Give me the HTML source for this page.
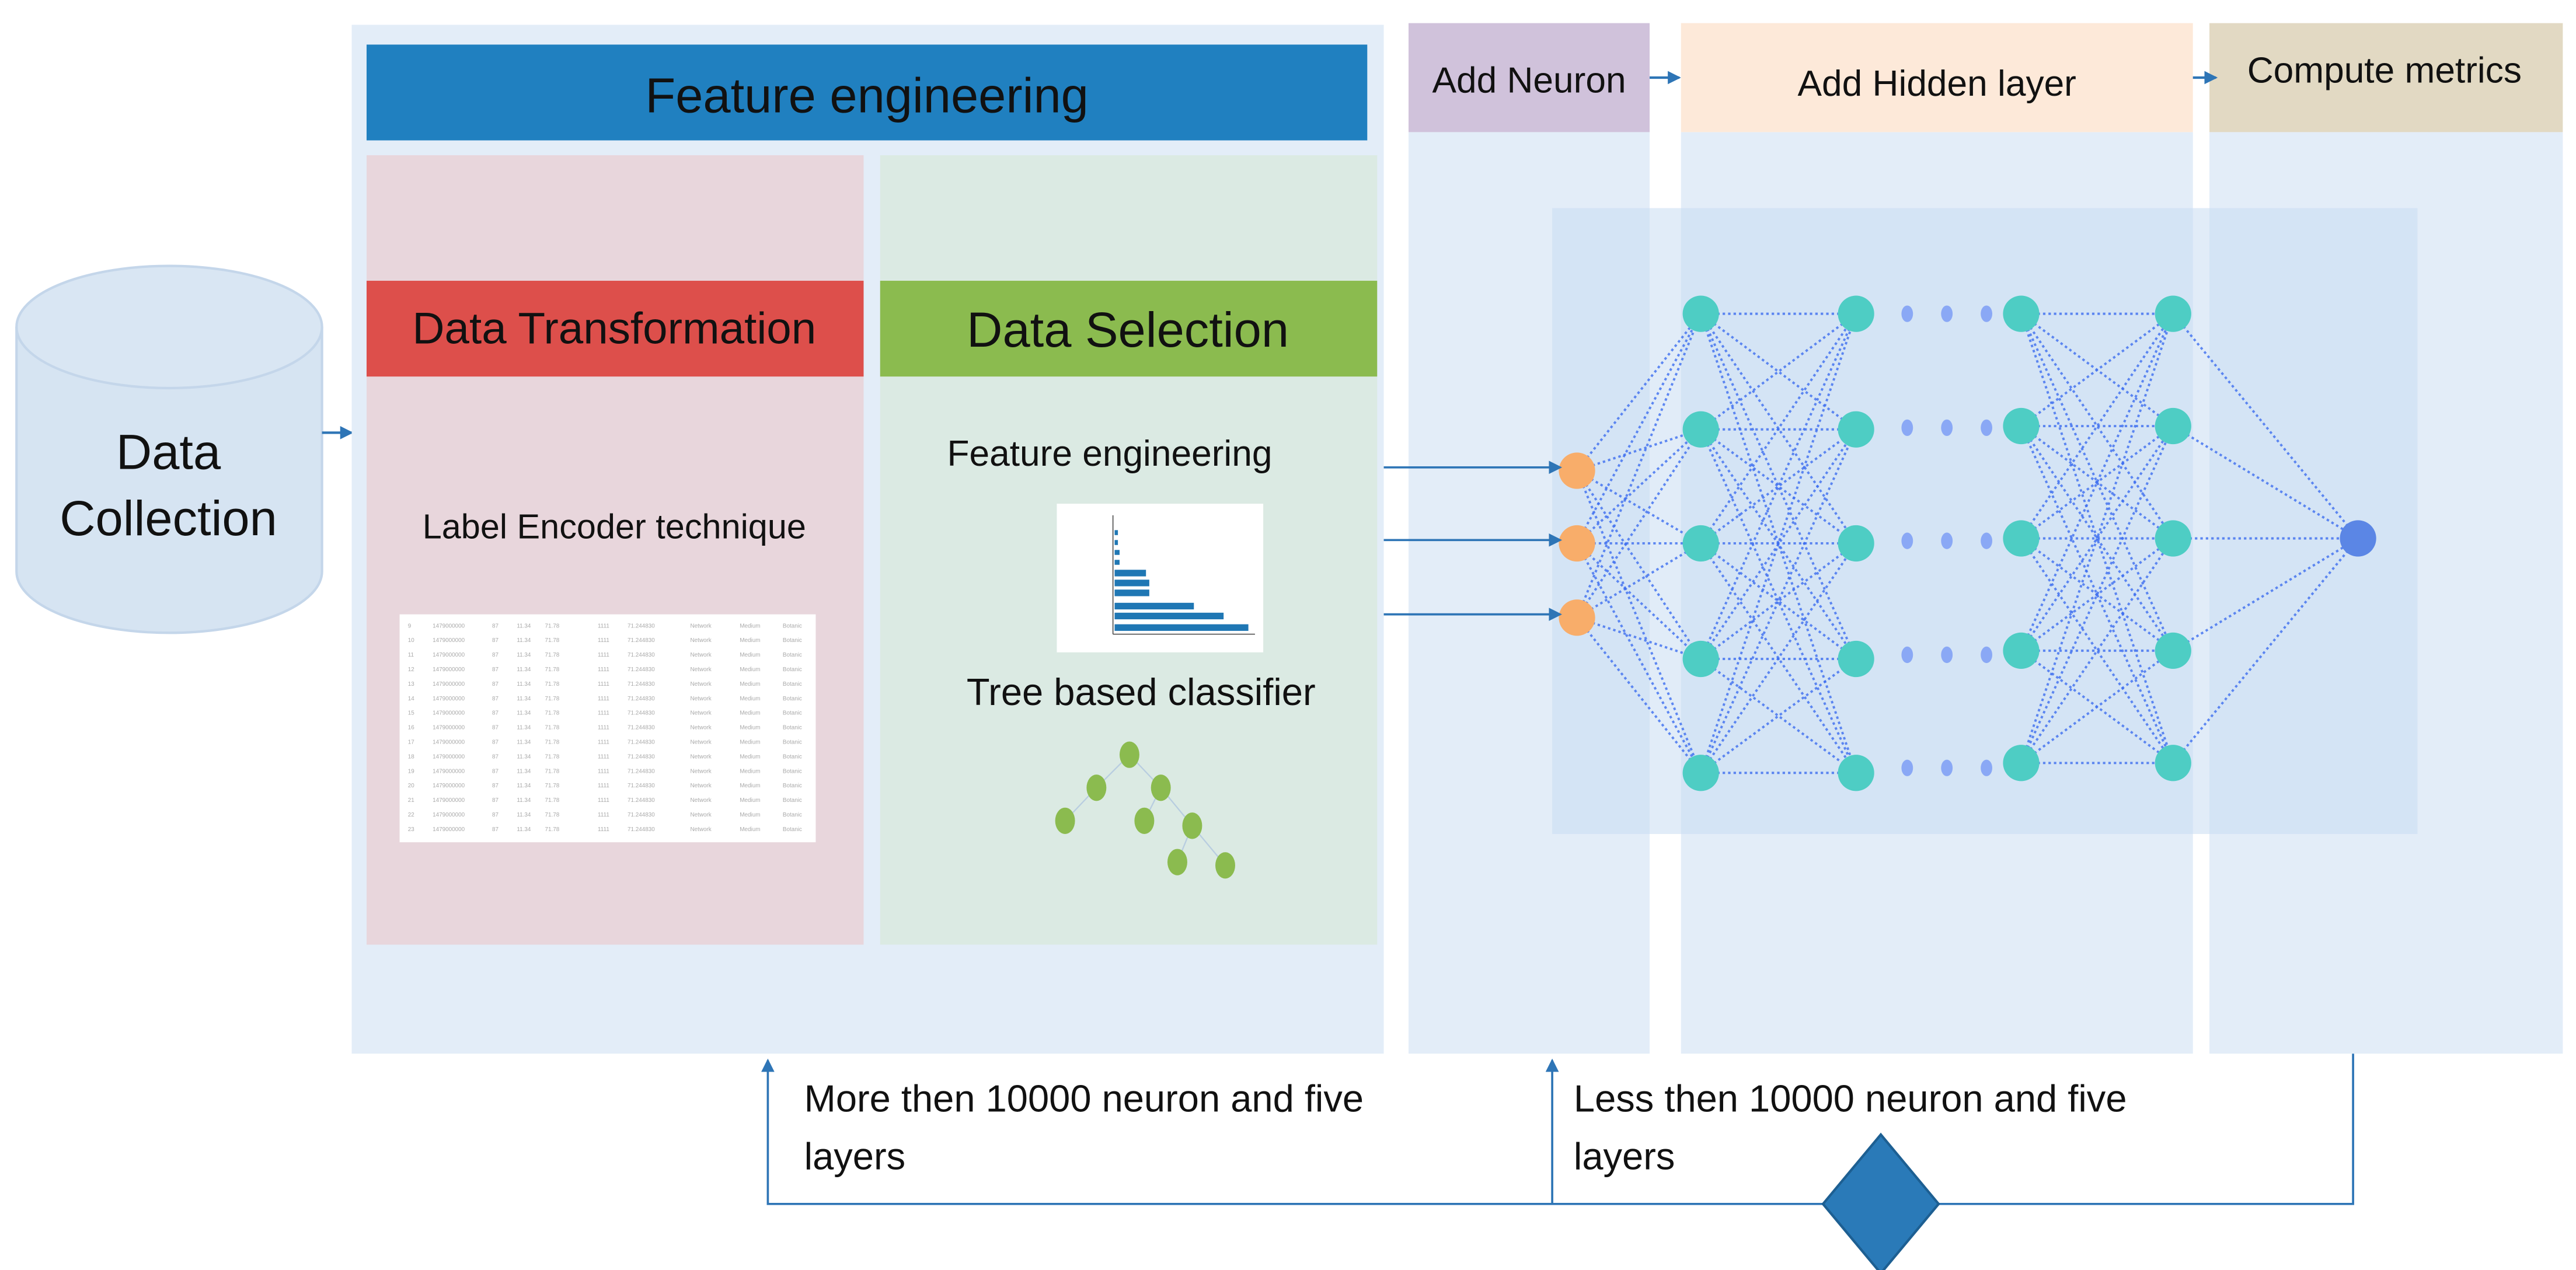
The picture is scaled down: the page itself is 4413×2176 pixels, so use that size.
<!DOCTYPE html>
<html><head><meta charset="utf-8"><style>
html,body{margin:0;padding:0;background:#fff;}
svg{display:block;}
text{font-family:"Liberation Sans",sans-serif;}
</style></head><body>
<svg id="s" width="4413" height="2176" viewBox="0 0 1560 769" preserveAspectRatio="none" xmlns="http://www.w3.org/2000/svg">
<defs>
<marker id="ar" markerWidth="8" markerHeight="8" refX="7" refY="4" orient="auto" markerUnits="userSpaceOnUse"><path d="M0,0 L8,4 L0,8 z" fill="#2e75b6"/></marker>
</defs>
<rect width="1560" height="769" fill="#fff"/>
<!-- cylinder -->
<path d="M10,198 L10,346 A92,37 0 0 0 195,346 L195,198" fill="#d6e4f2" stroke="#c4d6ea" stroke-width="1.5"/>
<ellipse cx="102.5" cy="198" rx="92.5" ry="37" fill="#d9e6f3" stroke="#c4d6ea" stroke-width="1.5"/>
<text x="102" y="284" font-size="30" text-anchor="middle" fill="#111">Data</text>
<text x="102" y="324" font-size="30" text-anchor="middle" fill="#111">Collection</text>
<line x1="195" y1="262" x2="213" y2="262" stroke="#2e75b6" stroke-width="1.5" marker-end="url(#ar)"/>
<!-- outer feature box -->
<rect x="213" y="15" width="625" height="623" fill="#e3edf8"/>
<rect x="222" y="27" width="606" height="58" fill="#2080c0"/>
<text x="525" y="68" font-size="30" text-anchor="middle" fill="#111">Feature engineering</text>
<rect x="222" y="94" width="301" height="478" fill="#e8d6dc"/>
<rect x="533" y="94" width="301" height="478" fill="#dbeae3"/>
<rect x="222" y="170" width="301" height="58" fill="#dd4f4b"/>
<text x="372" y="208" font-size="27" text-anchor="middle" fill="#111">Data Transformation</text>
<rect x="533" y="170" width="301" height="58" fill="#8bbb4f"/>
<text x="683" y="210" font-size="30" text-anchor="middle" fill="#111">Data Selection</text>
<text x="372" y="326" font-size="21" text-anchor="middle" fill="#111">Label Encoder technique</text>
<rect x="242" y="372" width="252" height="138" fill="#fff"/>
<g id="tbl" font-size="3.5" fill="#aaa"></g>
<text x="672" y="282" font-size="22" text-anchor="middle" fill="#111">Feature engineering</text>
<rect x="640" y="305" width="125" height="90" fill="#fff"/>
<g fill="#1f77b4">
<rect x="675" y="321" width="2" height="3"/><rect x="675" y="327" width="2" height="3"/>
<rect x="675" y="333" width="3" height="3"/><rect x="675" y="339" width="3" height="3"/>
<rect x="675" y="345" width="19" height="4"/><rect x="675" y="351" width="21" height="4"/>
<rect x="675" y="357" width="21" height="4"/><rect x="675" y="365" width="48" height="4"/>
<rect x="675" y="371" width="66" height="4"/><rect x="675" y="378" width="81" height="4"/>
</g>
<line x1="674" y1="312" x2="674" y2="384" stroke="#333" stroke-width="0.5"/>
<line x1="674" y1="384" x2="760" y2="384" stroke="#333" stroke-width="0.5"/>
<text x="691" y="427" font-size="23" text-anchor="middle" fill="#111">Tree based classifier</text>
<g stroke="#b8cde0" stroke-width="0.8">
<line x1="684" y1="457" x2="664" y2="477"/><line x1="684" y1="457" x2="703" y2="477"/>
<line x1="664" y1="477" x2="645" y2="497"/><line x1="703" y1="477" x2="693" y2="497"/>
<line x1="703" y1="477" x2="722" y2="500"/><line x1="722" y1="500" x2="713" y2="522"/>
<line x1="722" y1="500" x2="742" y2="524"/>
</g>
<g fill="#8bbb4f">
<ellipse cx="684" cy="457" rx="6" ry="8"/><ellipse cx="664" cy="477" rx="6" ry="8"/>
<ellipse cx="703" cy="477" rx="6" ry="8"/><ellipse cx="645" cy="497" rx="6" ry="8"/>
<ellipse cx="693" cy="497" rx="6" ry="8"/><ellipse cx="722" cy="500" rx="6" ry="8"/>
<ellipse cx="713" cy="522" rx="6" ry="8"/><ellipse cx="742" cy="524" rx="6" ry="8"/>
</g>
<!-- columns -->
<rect x="853" y="80" width="146" height="558" fill="#e3edf8"/>
<rect x="853" y="14" width="146" height="66" fill="#d0c2db"/>
<text x="926" y="56" font-size="22" text-anchor="middle" fill="#111">Add Neuron</text>
<rect x="1018" y="80" width="310" height="558" fill="#e3edf8"/>
<rect x="1018" y="14" width="310" height="66" fill="#fde9d9"/>
<text x="1173" y="58" font-size="22" text-anchor="middle" fill="#111">Add Hidden layer</text>
<rect x="1338" y="80" width="214" height="558" fill="#e3edf8"/>
<rect x="1338" y="14" width="214" height="66" fill="#e2d9c3"/>
<text x="1444" y="50" font-size="22" text-anchor="middle" fill="#111">Compute metrics</text>
<line x1="999" y1="47" x2="1017" y2="47" stroke="#2e75b6" stroke-width="1.5" marker-end="url(#ar)"/>
<line x1="1328" y1="47" x2="1342" y2="47" stroke="#2e75b6" stroke-width="1.5" marker-end="url(#ar)"/>
<!-- NN panel -->
<rect x="940" y="126" width="524" height="379" fill="#c9dcf3" opacity="0.55"/>
<g id="nn"></g>
<line x1="838" y1="283" x2="945" y2="283" stroke="#2e75b6" stroke-width="1.3" marker-end="url(#ar)"/>
<line x1="838" y1="327" x2="945" y2="327" stroke="#2e75b6" stroke-width="1.3" marker-end="url(#ar)"/>
<line x1="838" y1="372" x2="945" y2="372" stroke="#2e75b6" stroke-width="1.3" marker-end="url(#ar)"/>
<!-- bottom loop -->
<g stroke="#2e75b6" stroke-width="1.3" fill="none">
<polyline points="1425,638 1425,729 465,729 465,642" marker-end="url(#ar)"/>
<line x1="940" y1="729" x2="940" y2="642" marker-end="url(#ar)"/>
</g>
<polygon points="1139,687 1174,729 1139,771 1104,729" fill="#2a7ab8" stroke="#1d5f92" stroke-width="1.5"/>
<text x="487" y="673" font-size="23" fill="#111">More then 10000 neuron  and five</text>
<text x="487" y="708" font-size="23" fill="#111">layers</text>
<text x="953" y="673" font-size="23" fill="#111">Less then 10000 neuron  and five</text>
<text x="953" y="708" font-size="23" fill="#111">layers</text>
</svg>
<script>
var NS="http://www.w3.org/2000/svg";
function el(p,t,a){var e=document.createElementNS(NS,t);for(var k in a)e.setAttribute(k,a[k]);p.appendChild(e);return e;}
var nn=document.getElementById("nn");
var inp=[[955,285],[955,329],[955,374]];
var y1=[190,260,329,399,468],y3=[190,258,326,394,462];
var L1=y1.map(function(y){return[1030,y]}),L2=y1.map(function(y){return[1124,y]});
var L3=y3.map(function(y){return[1224,y]}),L4=y3.map(function(y){return[1316,y]});
var out=[[1428,326]];
function conn(A,B){A.forEach(function(a){B.forEach(function(b){el(nn,"line",{x1:a[0],y1:a[1],x2:b[0],y2:b[1],stroke:"#3d6ef0","stroke-width":"1.4","stroke-dasharray":"1.5 1.8",opacity:"0.8"});});});}
conn(inp,L1);conn(L1,L2);conn(L3,L4);conn(L4,out);
y1.forEach(function(y,i){[1155,1179,1203].forEach(function(x){el(nn,"ellipse",{cx:x,cy:(y+y3[i])/2,rx:3.5,ry:5,fill:"#8aa8f5"});});});
function nodes(A,c){A.forEach(function(a){el(nn,"ellipse",{cx:a[0],cy:a[1],rx:11,ry:11,fill:c});});}
nodes(inp,"#f8ad6a");nodes(L1,"#4ecdc4");nodes(L2,"#4ecdc4");nodes(L3,"#4ecdc4");nodes(L4,"#4ecdc4");nodes(out,"#5b86e5");
var t=document.getElementById("tbl");
var cols=[247,262,298,313,330,362,380,418,448,474];
for(var r=0;r<15;r++){var y=380+r*8.8;var vals=[String(9+r),"1479000000","87","11.34","71.78","1111","71.244830","Network","Medium","Botanic"];
cols.forEach(function(x,i){var e=el(t,"text",{x:x,y:y});e.textContent=vals[i];});}
</script>
</body></html>
